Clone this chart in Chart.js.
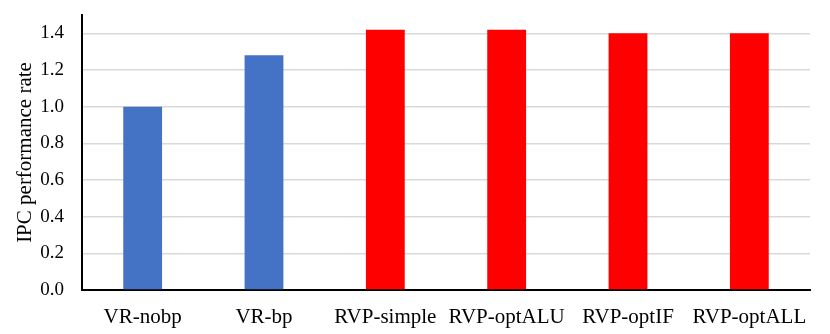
<!DOCTYPE html>
<html>
<head>
<meta charset="utf-8">
<script src="https://cdn.jsdelivr.net/npm/chart.js@4"></script>
<style>
    html, body { margin: 0; padding: 0; background: #fff; }
    #wrap { width: 830px; height: 334px; }
</style>
</head>
<body>
<div id="wrap"><canvas id="ipcChart"></canvas></div>
<script>
// Chart data
const categories = ['VR-nobp', 'VR-bp', 'RVP-simple', 'RVP-optALU', 'RVP-optIF', 'RVP-optALL'];
const ipcValues = [1.00, 1.28, 1.42, 1.42, 1.40, 1.40];
const barColors = ['#4472C4', '#4472C4', '#FF0000', '#FF0000', '#FF0000', '#FF0000'];
const yTicks = [0.0, 0.2, 0.4, 0.6, 0.8, 1.0, 1.2, 1.4];

const serif = 'Liberation Serif, Times New Roman, serif';

new Chart(document.getElementById('ipcChart').getContext('2d'), {
    type: 'bar',
    data: {
        labels: categories,
        datasets: [{
            data: ipcValues,
            backgroundColor: barColors,
            borderWidth: 0,
            barPercentage: 0.32,
            categoryPercentage: 1.0
        }]
    },
    options: {
        responsive: true,
        maintainAspectRatio: false,
        animation: false,
        layout: {
            padding: { top: 15, right: 20, left: 0, bottom: 0 }
        },
        plugins: {
            legend: { display: false },
            tooltip: { enabled: false }
        },
        scales: {
            x: {
                grid: { display: false, drawTicks: false },
                border: { color: '#000', width: 2 },
                ticks: {
                    color: '#000',
                    padding: 15,
                    maxRotation: 0,
                    autoSkip: false,
                    font: { family: serif, size: 21 }
                },
                afterFit: function(scale) {
                    scale.height = 44;
                }
            },
            y: {
                min: 0,
                max: 1.5,
                afterBuildTicks: function(scale) {
                    scale.ticks = yTicks.map(v => ({ value: v }));
                },
                grid: {
                    color: '#d9d9d9',
                    lineWidth: 1.5,
                    drawTicks: false
                },
                border: { color: '#000', width: 2 },
                ticks: {
                    color: '#000',
                    padding: 18,
                    font: { family: serif, size: 19 },
                    callback: function(value) {
                        return value.toFixed(1);
                    }
                },
                title: {
                    display: true,
                    text: 'IPC performance rate',
                    color: '#000',
                    padding: { top: 13, bottom: 0 },
                    font: { family: serif, size: 21 }
                },
                afterFit: function(scale) {
                    scale.width = 82;
                    // top tick is 1.4, so no room is needed for a label at the axis top
                    scale.paddingTop = 0;
                }
            }
        }
    }
});
</script>
</body>
</html>
